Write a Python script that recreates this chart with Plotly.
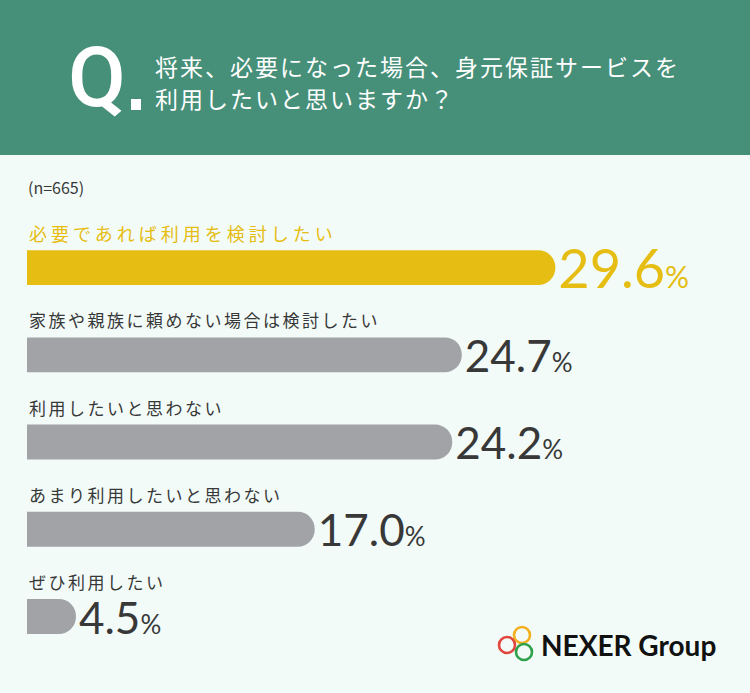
import plotly.graph_objects as go

# survey data (n=665)
categories = [
    "必要であれば利用を検討したい",
    "家族や親族に頼めない場合は検討したい",
    "利用したいと思わない",
    "あまり利用したいと思わない",
    "ぜひ利用したい",
]
percents = [29.6, 24.7, 24.2, 17.0, 4.5]
highlight = [True, False, False, False, False]

question_lines = ["将来、必要になった場合、身元保証サービスを", "利用したいと思いますか？"]
sample_note = "(n=665)"

W, H = 750, 693
ML, MR, MT, MB = 27, 0, 224, 27
PW, PH = W - ML - MR, H - MT - MB

GREEN = "#468F79"
BG = "#F2FBF8"
YELLOW = "#E6BD12"
GRAY = "#A2A3A7"
DARK = "#383838"

# px per percent, zero sits a little left of the plot edge so bars start square
K = 19.1
X0 = (ML + 10) / K


def px(x):
    return (x - ML) / PW


def py(y):
    return (H - MB - y) / PH


bar_colors = [YELLOW if h else GRAY for h in highlight]
text_colors = [YELLOW if h else DARK for h in highlight]
text_sizes = [54 if h else 44 for h in highlight]
pct_sizes = [30 if h else 26 for h in highlight]
texts = [
    f"{v:.1f}<span style='font-size:{s}px'>%</span>"
    for v, s in zip(percents, pct_sizes)
]

fig = go.Figure(go.Bar(
    x=percents,
    y=categories,
    orientation="h",
    width=0.4,
    marker=dict(color=bar_colors, line=dict(width=0)),
    text=texts,
    texttemplate="%{text}",
    textposition="outside",
    textfont=dict(family="Lato", color=text_colors, size=text_sizes),
    constraintext="none",
    cliponaxis=False,
    hoverinfo="skip",
))

shapes = [
    dict(type="rect", xref="paper", yref="paper",
         x0=px(0), x1=px(W), y0=py(155), y1=py(0),
         fillcolor=GREEN, line=dict(width=0), layer="below"),
]

# logo rings
for cx, cy, col in [(522, 635, "#F2B01E"), (507, 645, "#E2453C"), (524, 652, "#2FA14A")]:
    r = 8
    shapes.append(dict(type="circle", xref="paper", yref="paper",
                       x0=px(cx - r), x1=px(cx + r), y0=py(cy + r), y1=py(cy - r),
                       line=dict(color=col, width=2.6)))

annotations = [
    dict(text="Q", x=px(66), y=py(77), xref="paper", yref="paper",
         xanchor="left", yanchor="middle", showarrow=False,
         font=dict(family="Roboto", size=84, color="white", weight=500)),
    dict(text=sample_note, x=px(26), y=py(187), xref="paper", yref="paper",
         xanchor="left", yanchor="middle", showarrow=False,
         font=dict(family="Noto Sans CJK JP", size=16, color=DARK)),
    dict(text="NEXER Group", x=px(539), y=py(645), xref="paper", yref="paper",
         xanchor="left", yanchor="middle", showarrow=False,
         font=dict(family="Lato", size=28, color="#111111", weight="bold")),
]

for line, ly in zip(question_lines, [66, 98]):
    annotations.append(dict(
        text=f"<span style='letter-spacing:2px'>{line}</span>",
        x=px(153), y=py(ly), xref="paper", yref="paper",
        xanchor="left", yanchor="middle", showarrow=False,
        font=dict(family="Noto Sans CJK JP", size=23, color="white"),
    ))

for cat, h in zip(categories, highlight):
    annotations.append(dict(
        text=f"<span style='letter-spacing:{4 if h else 2.5}px'>{cat}</span>",
        x=0, y=cat, xref="paper", yref="y", yshift=35,
        xanchor="left", yanchor="middle", showarrow=False,
        font=dict(family="Noto Sans CJK JP", size=18 if h else 17,
                  color=YELLOW if h else DARK),
    ))

# Q-dot square
shapes.append(dict(type="rect", xref="paper", yref="paper",
                   x0=px(131), x1=px(141), y0=py(110), y1=py(99),
                   fillcolor="white", line=dict(width=0)))

fig.update_layout(
    width=W, height=H,
    margin=dict(l=ML, r=MR, t=MT, b=MB, pad=0),
    paper_bgcolor=BG, plot_bgcolor=BG,
    barcornerradius=18,
    showlegend=False,
    shapes=shapes,
    annotations=annotations,
    xaxis=dict(range=[X0, X0 + PW / K], visible=False, fixedrange=True),
    yaxis=dict(autorange="reversed", visible=False, fixedrange=True),
)

fig.write_html(
    "out.html",
    config={"displayModeBar": False},
    post_script="document.body.style.margin='0';document.body.style.overflow='hidden';",
)
